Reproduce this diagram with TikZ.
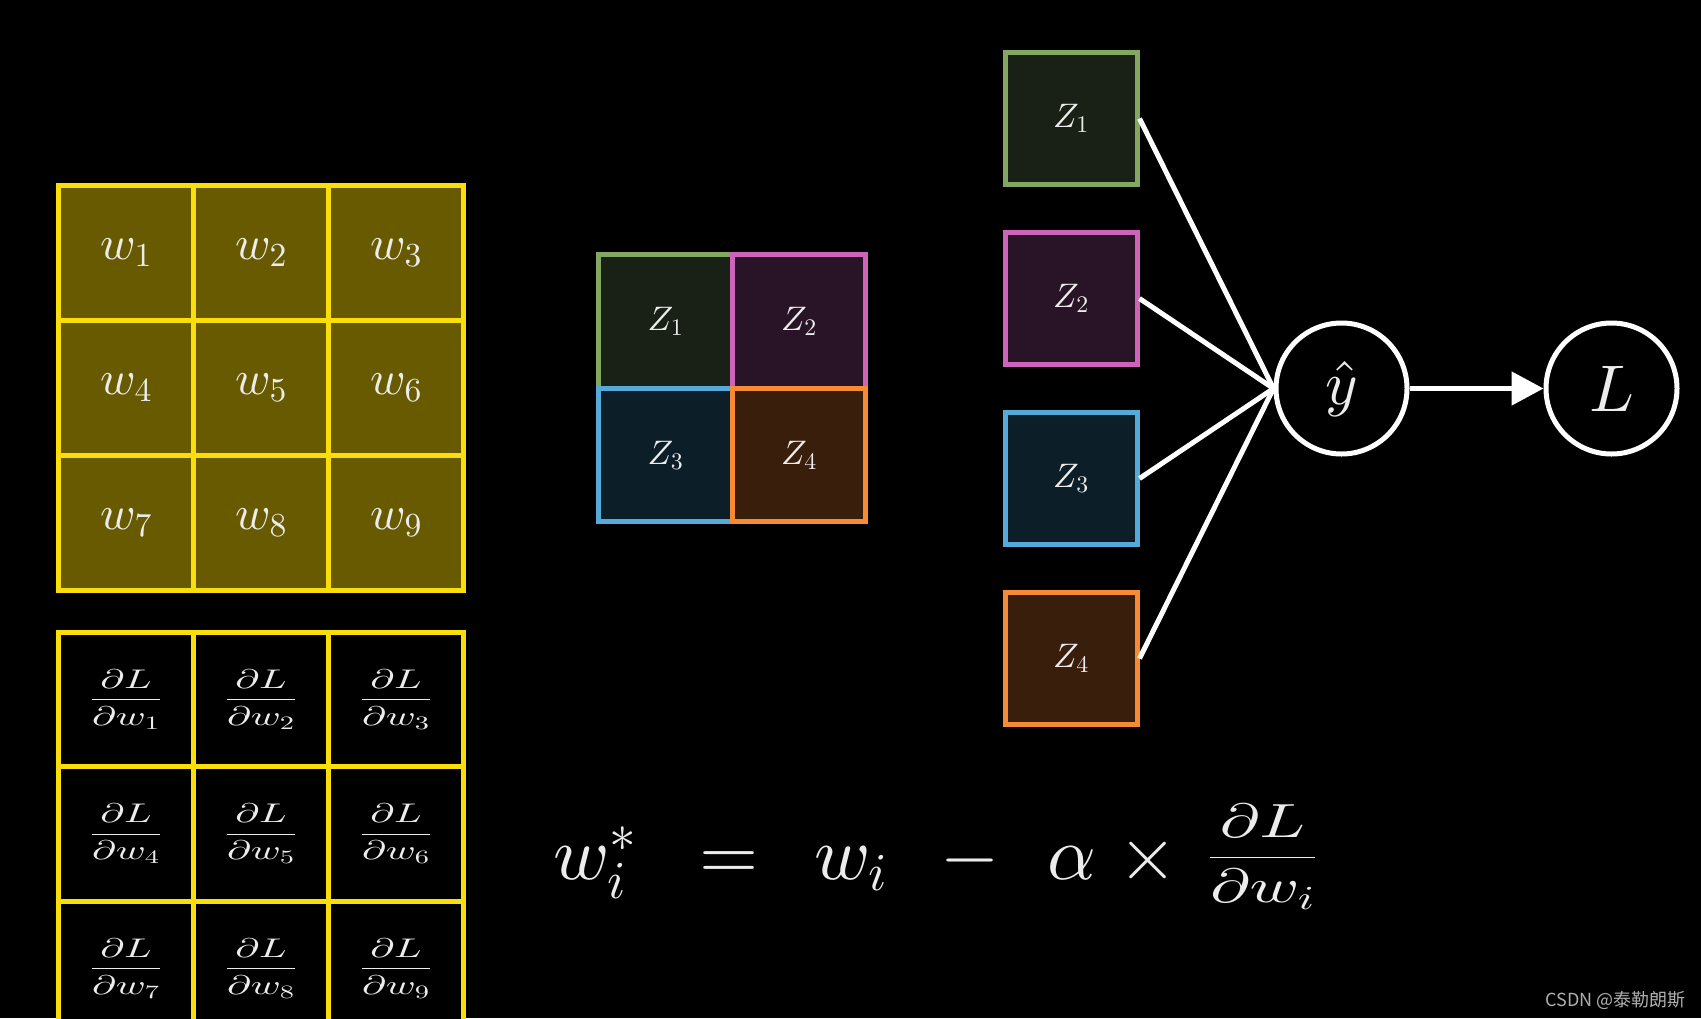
\documentclass[tikz,border=0pt]{standalone}
\usepackage{fontspec}
\usepackage{graphicx}
\DeclareFontShape{OML}{cmm}{m}{it}{<-6>cmmi5<6-8>cmmi7<8->cmmi10}{}
\DeclareFontShape{OMS}{cmsy}{m}{n}{<-6>cmsy5<6-8>cmsy7<8->cmsy10}{}
\DeclareFontShape{OMX}{cmex}{m}{n}{<->cmex10}{}
\DeclareFontShape{OT1}{cmr}{m}{n}{<-6>cmr5<6-8>cmr7<8->cmr10}{}
\newfontfamily\cjk{Noto Sans CJK SC}
\usetikzlibrary{arrows.meta}
\definecolor{ylw}{RGB}{250,222,10}
\definecolor{olv}{RGB}{104,90,0}
\definecolor{txt}{RGB}{236,236,236}
\definecolor{zgreen}{RGB}{131,166,97}
\definecolor{zgreenf}{RGB}{25,33,22}
\definecolor{zpink}{RGB}{206,100,186}
\definecolor{zpinkf}{RGB}{40,20,38}
\definecolor{zblue}{RGB}{85,170,218}
\definecolor{zbluef}{RGB}{12,30,40}
\definecolor{zorange}{RGB}{247,139,53}
\definecolor{zorangef}{RGB}{58,30,12}
\definecolor{wmgray}{RGB}{175,175,175}
\tikzset{
  wcell/.style={draw=ylw, fill=olv, line width=5pt, minimum size=135pt, inner sep=0pt, text=txt, font=\fontsize{48}{52}\selectfont},
  gcell/.style={draw=ylw, fill=black, line width=5pt, minimum width=135pt, minimum height=134.5pt, inner sep=0pt, text=txt, font=\fontsize{27}{30}\selectfont},
  zbox/.style={line width=5pt, minimum size=133.5pt, inner sep=0pt, text=txt, font=\fontsize{34}{38}\selectfont},
  circ/.style={circle, draw=white, line width=5pt, minimum size=131pt, inner sep=0pt, text=txt},
  link/.style={draw=white, line width=5pt},
  eq/.style={text=txt, inner sep=0pt, anchor=base, font=\fontsize{76}{84}\selectfont}
}
\begin{document}
\begin{tikzpicture}[x=1pt,y=-1pt]
\fill[black] (0,0) rectangle (1701,1018);
\clip (0,0) rectangle (1701,1018);
% weight grid
\foreach \i in {1,...,9}{
  \pgfmathtruncatemacro\c{mod(\i-1,3)}
  \pgfmathtruncatemacro\r{div(\i-1,3)}
  \node[wcell] (w\i) at ({126+135*\c},{253+135*\r}) {$w_{\i}$};
}
% gradient grid
\foreach \i in {1,...,9}{
  \pgfmathtruncatemacro\c{mod(\i-1,3)}
  \pgfmathtruncatemacro\r{div(\i-1,3)}
  \node[gcell] (g\i) at ({126+135*\c},{699.25+134.5*\r}) {\scalebox{1.5}[1]{$\displaystyle\frac{\partial L}{\partial w_{\i}}$}};
}
% Z grid
\node[zbox, draw=zgreen, fill=zgreenf] (z1) at (665.5,321.5) {$Z_1$};
\node[zbox, draw=zpink, fill=zpinkf] (z2) at (799,321.5) {$Z_2$};
\node[zbox, draw=zblue, fill=zbluef] (z3) at (665.5,455) {$Z_3$};
\node[zbox, draw=zorange, fill=zorangef] (z4) at (799,455) {$Z_4$};
% right column
\node[zbox, minimum size=132pt, draw=zgreen, fill=zgreenf] (r1) at (1071,118.5) {$Z_1$};
\node[zbox, minimum size=132pt, draw=zpink, fill=zpinkf] (r2) at (1071,298.5) {$Z_2$};
\node[zbox, minimum size=132pt, draw=zblue, fill=zbluef] (r3) at (1071,478.5) {$Z_3$};
\node[zbox, minimum size=132pt, draw=zorange, fill=zorangef] (r4) at (1071,658.5) {$Z_4$};
\node[circ, font=\fontsize{62}{68}\selectfont] (yhat) at (1341.5,388.5) {$\hat{y}$};
\node[circ, font=\fontsize{66}{72}\selectfont] (L) at (1611.5,388.5) {$L$};
\foreach \i in {1,...,4}{
  \draw[link] (r\i.east) -- (yhat.west);
}
\draw[link, -{Triangle[length=32pt,width=33pt]}] (yhat) -- (L);
% equation
\node[eq, anchor=base west] (wstar) at (553,879) {$w_i^*$};
\node[eq] (equals) at (729.5,879) {$=$};
\node[eq] (wi) at (851,879) {$w_i$};
\node[eq] (minus) at (970,879) {$-$};
\node[eq] (alpha) at (1072,879) {$\alpha$};
\node[eq] (times) at (1148,879) {$\times$};
\node[eq, font=\fontsize{48}{54}\selectfont] (frac) at (1262.5,869.5) {\scalebox{1.4}[1]{$\displaystyle\frac{\partial L}{\partial w_i}$}};
% watermark
\node[anchor=east, inner sep=0pt, text=wmgray, font=\cjk\fontsize{18}{20}\selectfont] (wm) at (1686,1000) {CSDN @泰勒朗斯};
\end{tikzpicture}
\end{document}
